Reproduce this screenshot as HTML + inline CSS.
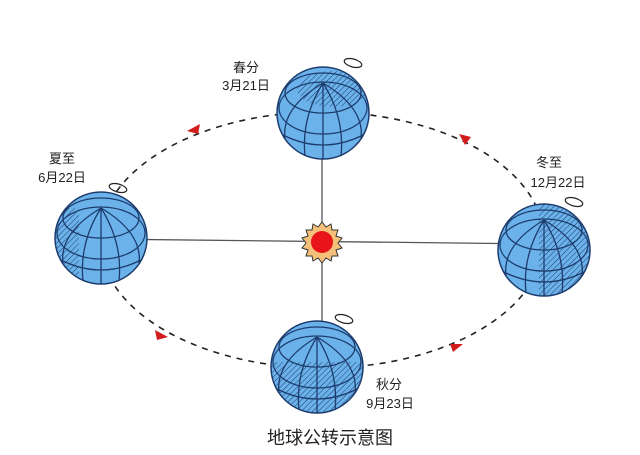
<!DOCTYPE html>
<html><head><meta charset="utf-8"><style>
html,body{margin:0;padding:0;background:#fff;width:640px;height:455px;overflow:hidden}
text{font-family:"Liberation Sans","Noto Sans CJK SC",sans-serif;fill:#222}
</style></head><body>
<svg width="640" height="455" viewBox="0 0 640 455" xmlns="http://www.w3.org/2000/svg">
<defs>
<pattern id="h" width="4" height="4" patternUnits="userSpaceOnUse" patternTransform="rotate(45)">
<line x1="0" y1="0" x2="0" y2="4" stroke="#1d3c6e" stroke-width="1"/>
</pattern>
<g id="globe">
<circle r="46" fill="#6cb2ea" stroke="#1d3c6e" stroke-width="1.5"/>
<g fill="none" stroke="#1d3c6e" stroke-width="1.3">
<ellipse cx="0" cy="-20" rx="38" ry="20"/>
<ellipse cx="0" cy="-5" rx="44" ry="26"/>
<path d="M-40,22 Q0,42 40,22"/>
<path d="M0,-30 L0,46"/>
<path d="M0,-30 Q-22,5 -18,43"/>
<path d="M0,-30 Q22,5 18,43"/>
<path d="M0,-30 Q-42,-5 -38,26"/>
<path d="M0,-30 Q42,-5 38,26"/>
</g>
</g>
<clipPath id="c"><circle r="46"/></clipPath>
</defs>
<ellipse cx="322" cy="240" rx="222" ry="128" fill="none" stroke="#222" stroke-width="1.6" stroke-dasharray="6,6"/>
<line x1="322" y1="113" x2="322" y2="367" stroke="#555" stroke-width="1.3"/>
<line x1="101" y1="239" x2="544" y2="244" stroke="#555" stroke-width="1.3"/>
<polygon points="187,131 200,124 198,134" fill="#d21d1d"/>
<polygon points="459,134 471,137 465,145" fill="#d21d1d"/>
<polygon points="168,337 155,330 157,340" fill="#d21d1d"/>
<polygon points="463,344 450,344 453,352" fill="#d21d1d"/>
<g transform="translate(322,242)">
<polygon points="0,-20 4,-15 9,-18 10,-12 16,-12 14,-6 20,-4 16,1 20,6 14,8 16,14 10,14 9,19 4,16 0,21 -4,16 -9,19 -10,14 -16,14 -14,8 -20,6 -16,1 -20,-4 -14,-6 -16,-12 -10,-12 -9,-18 -4,-15" fill="#f4c07a" stroke="#333" stroke-width="1"/>
<circle r="11" fill="#e8141a"/>
</g>
<g transform="translate(323,113)"><use href="#globe"/><g clip-path="url(#c)"><ellipse cx="10" cy="-24" rx="36" ry="18" fill="url(#h)"/></g></g>
<g transform="translate(101,238)"><use href="#globe"/><g clip-path="url(#c)"><rect x="-46" y="-30" width="24" height="80" fill="url(#h)"/></g></g>
<g transform="translate(544,250)"><use href="#globe"/><g clip-path="url(#c)"><rect x="-5" y="-46" width="55" height="95" fill="url(#h)"/></g></g>
<g transform="translate(317,367)"><use href="#globe"/><g clip-path="url(#c)"><rect x="-46" y="-5" width="95" height="55" fill="url(#h)"/></g></g>
<g fill="none" stroke="#222" stroke-width="1.2">
<ellipse cx="353" cy="63" rx="9" ry="4" transform="rotate(15 353 63)"/>
<ellipse cx="118" cy="188" rx="9" ry="4" transform="rotate(15 118 188)"/>
<ellipse cx="574" cy="202" rx="9" ry="4" transform="rotate(15 574 202)"/>
<ellipse cx="344" cy="319" rx="9" ry="4" transform="rotate(15 344 319)"/>
</g>
<g font-size="13" text-anchor="middle">
<text x="246" y="72">春分</text><text x="246" y="90">3月21日</text>
<text x="62" y="163">夏至</text><text x="62" y="182">6月22日</text>
<text x="549" y="167">冬至</text><text x="558" y="187">12月22日</text>
<text x="389" y="389">秋分</text><text x="390" y="408">9月23日</text>
</g>
<text x="330" y="444" font-size="18" text-anchor="middle">地球公转示意图</text>
</svg>
</body></html>
